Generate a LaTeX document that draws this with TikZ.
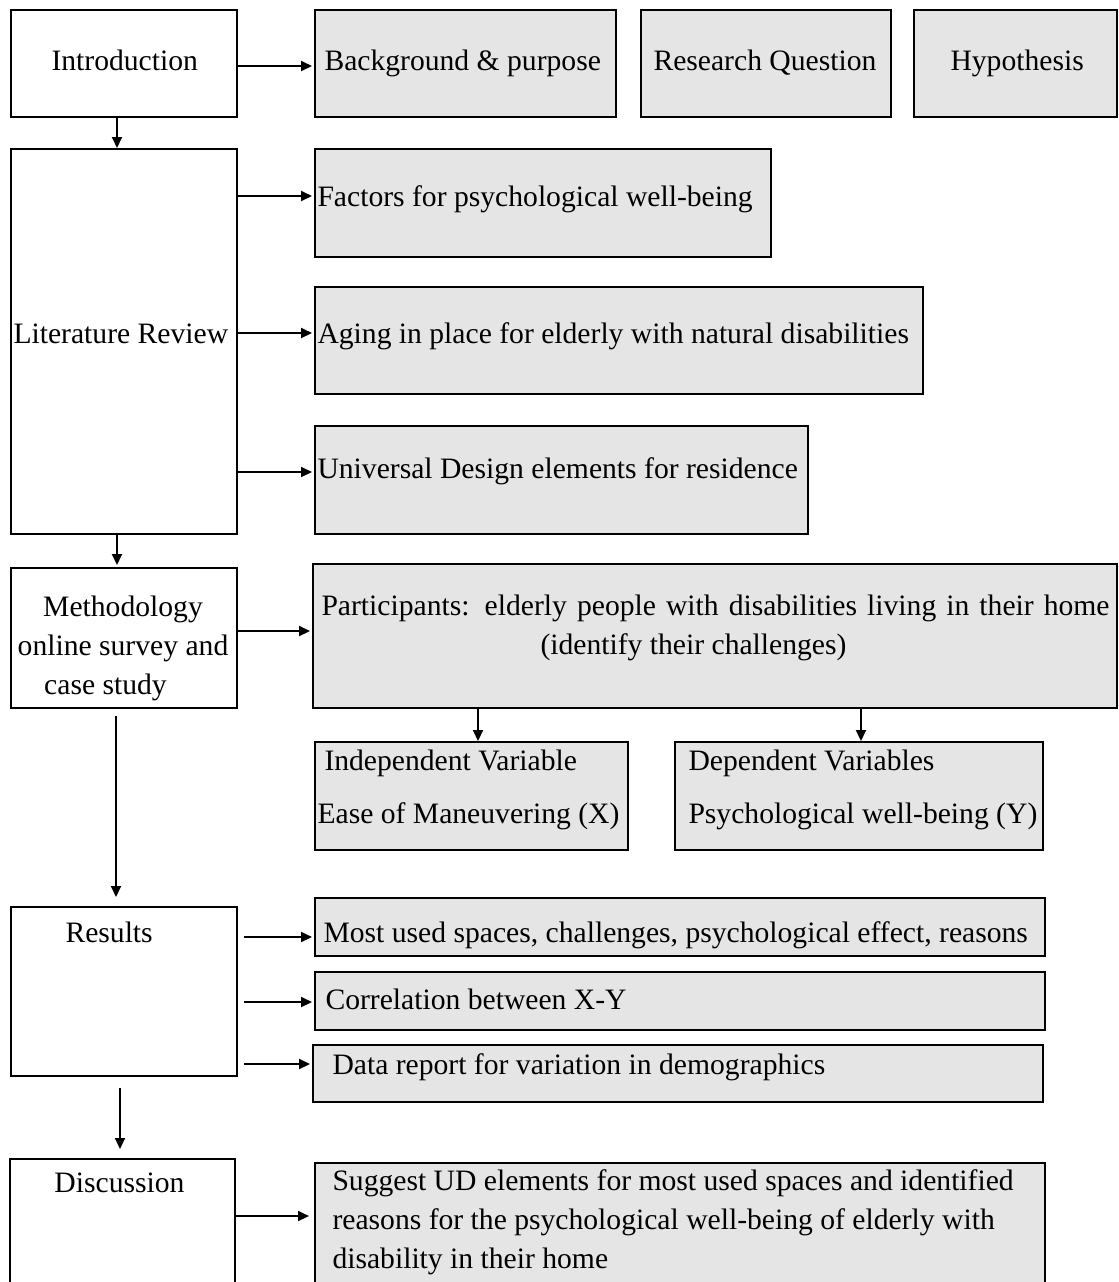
\documentclass[tikz,border=0pt]{standalone}
\usepackage{fontspec}
\setmainfont{Liberation Serif}
\usetikzlibrary{positioning,fit,arrows.meta}

\begin{document}
\begin{tikzpicture}[x=0.4pt,y=-0.4pt,
  box/.style={draw,line width=0.8pt,inner sep=0pt},
  gbox/.style={box,fill=gray!20},
  txt/.style={inner sep=0pt,anchor=base west,align=left,font=\fontsize{11.85}{15.6}\selectfont},
  arr/.style={-{Triangle[length=4.4pt,width=4pt]},line width=0.8pt}]
\clip (0,0) rectangle (1119,1282);
% left column
\node[box,fit={(11,10) (237,117)}] (intro) {};
\node[box,fit={(11,149) (237,534)}] (lit) {};
\node[box,fit={(11,568) (237,708)}] (meth) {};
\node[box,fit={(11,907) (237,1076)}] (res) {};
\node[box,fit={(10,1159) (235,1310)}] (disc) {};
\node[txt] (intro-t) at (51,70) {Introduction};
\node[txt] (lit-t) at (13,343) {Literature Review};
\node[txt,align=center,anchor=base] (meth-t) at (123,694) {Methodology\\online survey and\\\hspace*{-14pt}case study};
\node[txt] (res-t) at (65,942) {Results};
\node[txt] (disc-t) at (54,1192) {Discussion};
% grey boxes
\node[gbox,fit={(315,10) (616,117)}] (bg) {};
\node[gbox,fit={(641,10) (891,117)}] (rq) {};
\node[gbox,fit={(914,10) (1117,117)}] (hyp) {};
\node[gbox,fit={(315,149) (771,257)}] (fac) {};
\node[gbox,fit={(315,287) (923,394)}] (aip) {};
\node[gbox,fit={(315,426) (808,534)}] (ud) {};
\node[gbox,fit={(313,564) (1117,708)}] (part) {};
\node[gbox,fit={(315,742) (628,850)}] (iv) {};
\node[gbox,fit={(675,742) (1043,850)}] (dv) {};
\node[gbox,fit={(315,898) (1045,956)}] (mus) {};
\node[gbox,fit={(315,972) (1045,1030)}] (cor) {};
\node[gbox,fit={(313,1045) (1043,1102)}] (dat) {};
\node[gbox,fit={(315,1163) (1045,1310)}] (sug) {};
\node[txt] (bg-t) at (324,70) {Background \& purpose};
\node[txt] (rq-t) at (653,70) {Research Question};
\node[txt] (hyp-t) at (950,70) {Hypothesis};
\node[txt] (fac-t) at (317,206) {Factors for psychological well-being};
\node[txt] (aip-t) at (317,343) {Aging in place for elderly with natural disabilities};
\node[txt] (ud-t) at (317,478) {Universal Design elements for residence};
\node[txt] (part-t) at (321,654) {\makebox[315.2pt][s]{Participants: elderly people with disabilities living in their home}\\\hspace*{87.6pt}(identify their challenges)};
\node[txt] (iv-t) at (317,823) {\hspace*{2.8pt}Independent Variable\\[5.6pt]Ease of Maneuvering (X)};
\node[txt] (dv-t) at (688,823) {Dependent Variables\\[5.6pt]Psychological well-being (Y)};
\node[txt] (mus-t) at (323,942) {Most used spaces, challenges, psychological effect, reasons};
\node[txt] (cor-t) at (325,1009) {Correlation between X-Y};
\node[txt] (dat-t) at (332,1074) {Data report for variation in demographics};
\node[txt] (sug-t) at (332,1268) {Suggest UD elements for most used spaces and identified\\reasons for the psychological well-being of elderly with\\disability in their home};
% connectors
\draw[arr] (intro.east |- 0,66) -- ([xshift=-0.8pt]bg.west |- 0,66);
\draw[arr] (intro.south -| 117,0) -- (lit.north -| 117,0);
\draw[arr] (lit.east |- 0,196) -- ([xshift=-0.8pt]fac.west |- 0,196);
\draw[arr] (lit.east |- 0,333) -- ([xshift=-0.8pt]aip.west |- 0,333);
\draw[arr] (lit.east |- 0,472) -- ([xshift=-0.8pt]ud.west |- 0,472);
\draw[arr] (lit.south -| 117,0) -- ([yshift=0.8pt]meth.north -| 117,0);
\draw[arr] (meth.east |- 0,631) -- ([xshift=-0.8pt]part.west |- 0,631);
\draw[arr] (part.south -| 478,0) -- (iv.north -| 478,0);
\draw[arr] (part.south -| 861,0) -- (dv.north -| 861,0);
\draw[arr] ([yshift=-2.8pt]meth.south -| 116,0) -- ([yshift=3.6pt]res.north -| 116,0);
\draw[arr] ([xshift=2.4pt]res.east |- 0,937) -- ([xshift=-0.8pt]mus.west |- 0,937);
\draw[arr] ([xshift=2.4pt]res.east |- 0,1002) -- ([xshift=-0.8pt]cor.west |- 0,1002);
\draw[arr] ([xshift=2.4pt]res.east |- 0,1064) -- ([xshift=-0.8pt]dat.west |- 0,1064);
\draw[arr] ([yshift=-4.4pt]res.south -| 120,0) -- ([yshift=3.6pt]disc.north -| 120,0);
\draw[arr] (disc.east |- 0,1216) -- ([xshift=-2pt]sug.west |- 0,1216);
\end{tikzpicture}
\end{document}
